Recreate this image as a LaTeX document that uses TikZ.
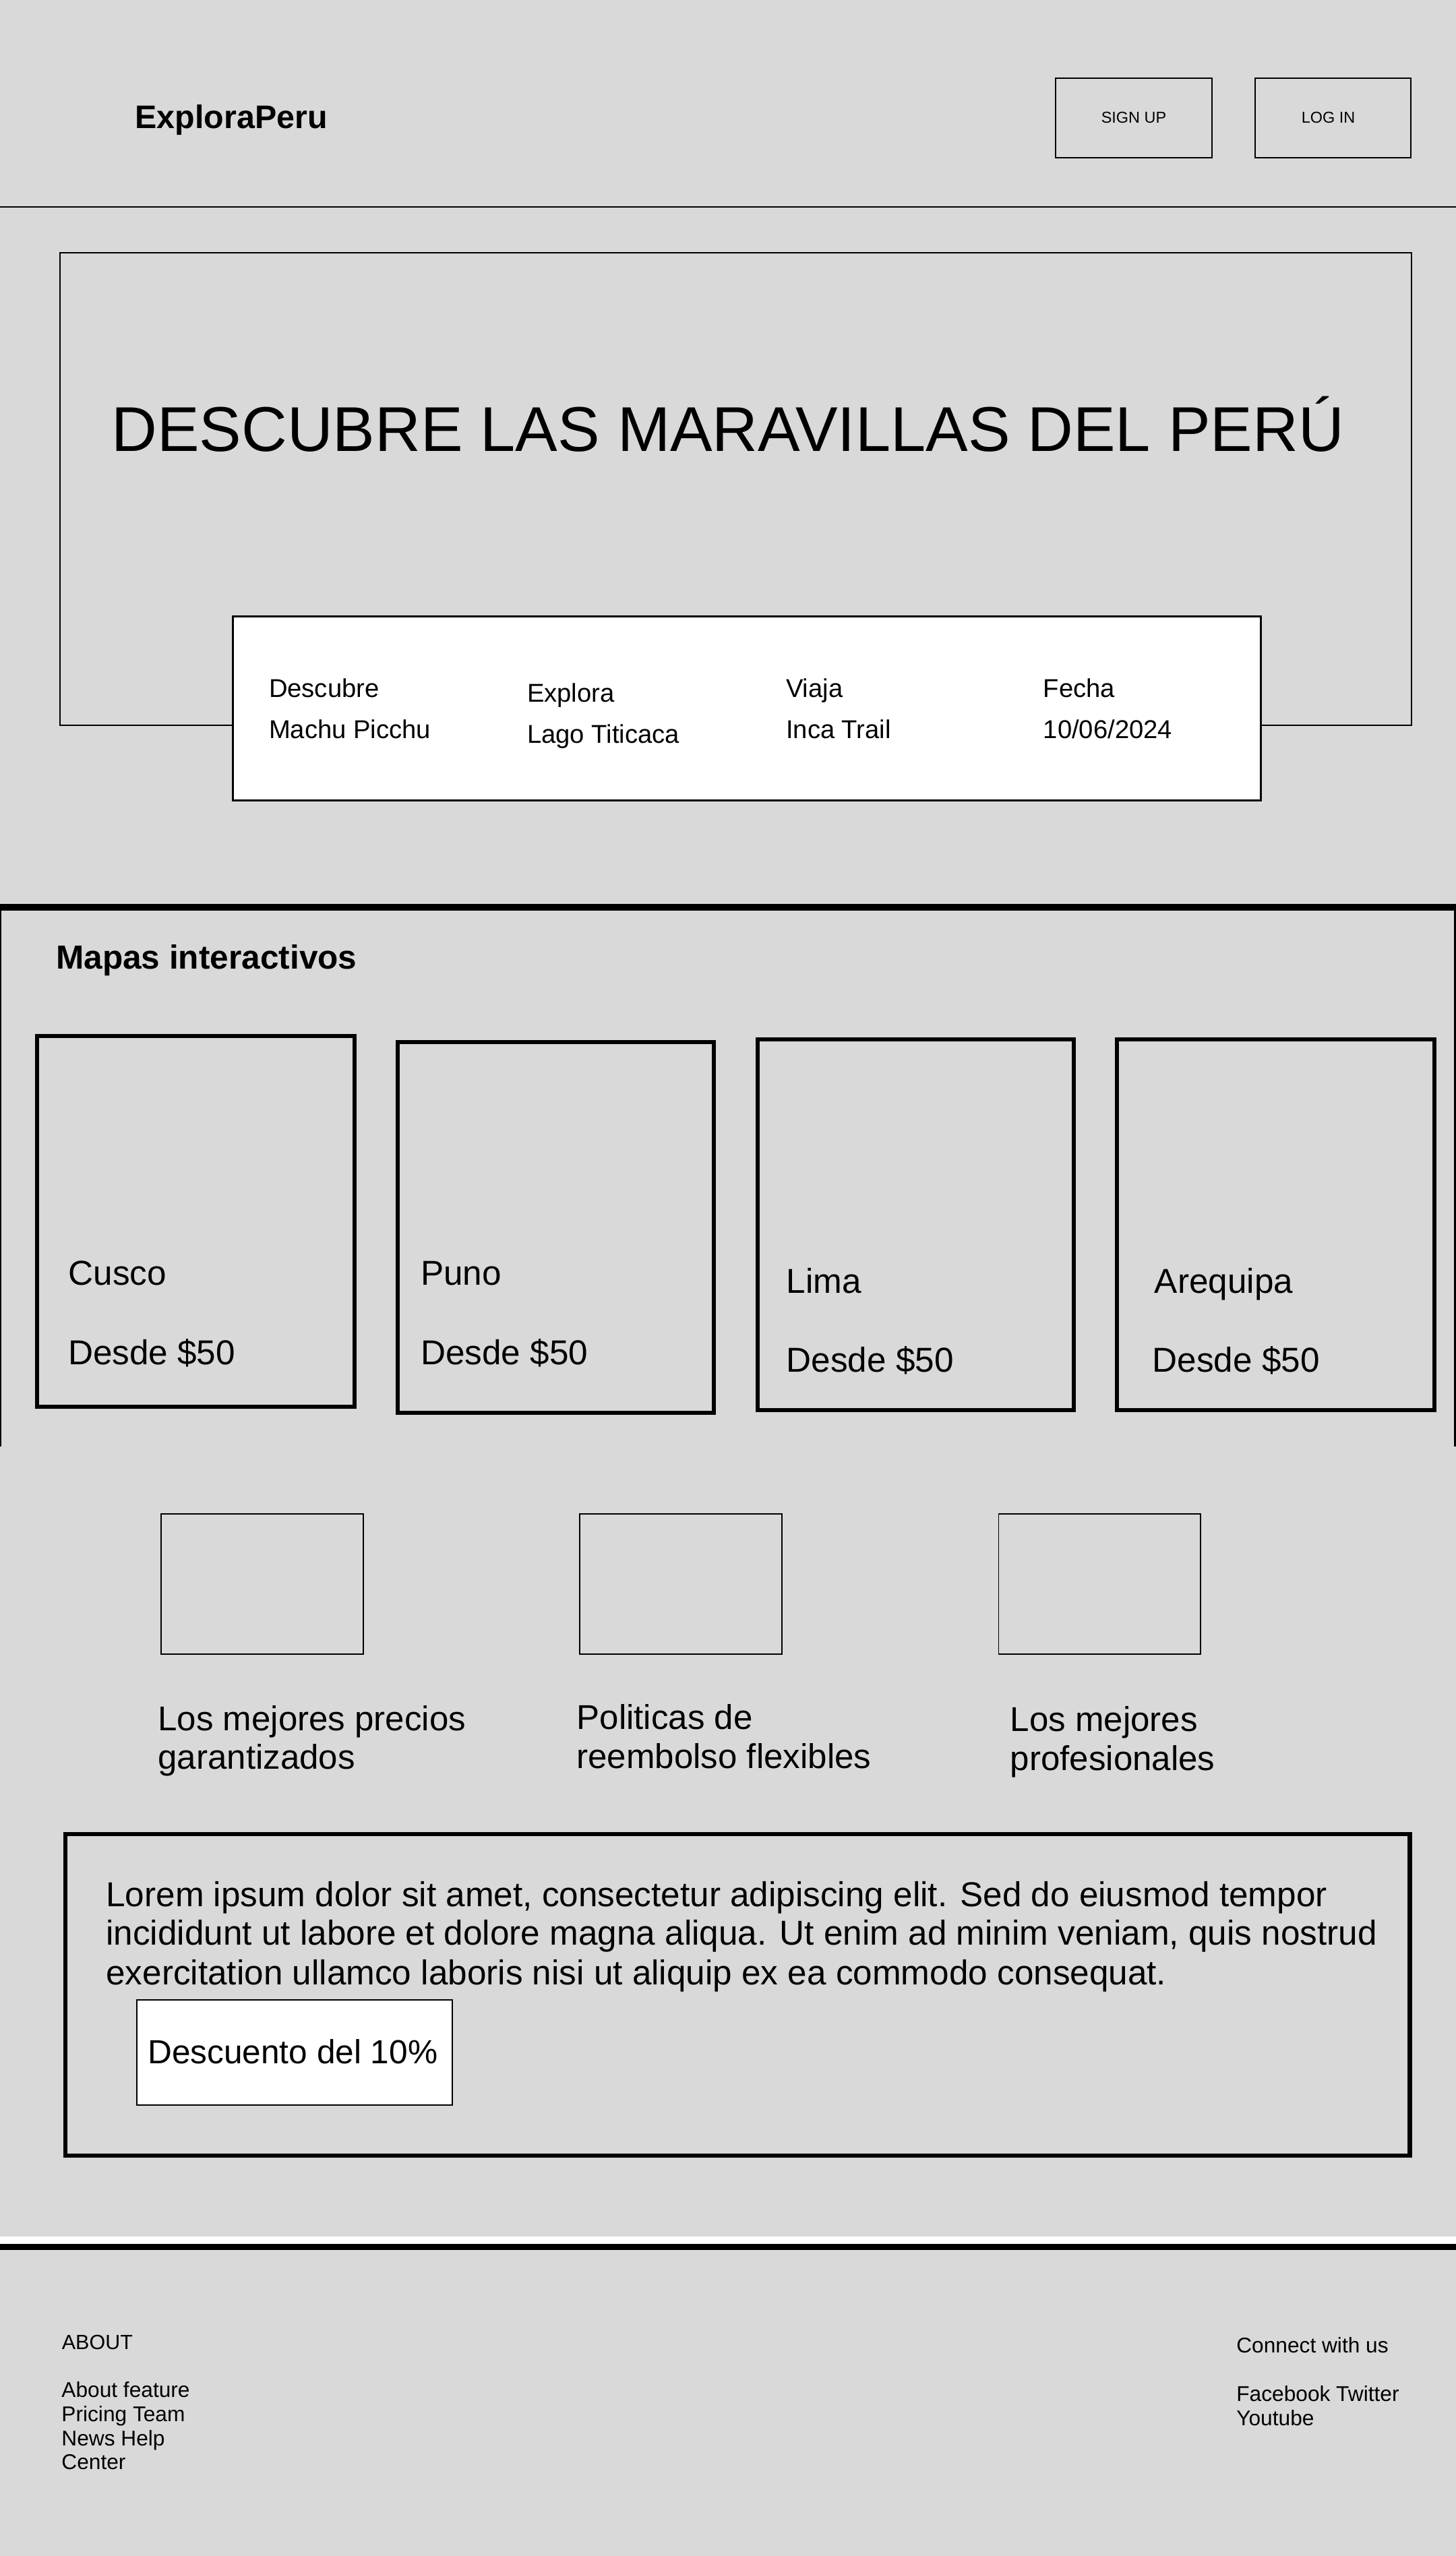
\documentclass[tikz,border=0pt]{standalone}
\usepackage{fontspec}
\setmainfont{Liberation Sans}
\definecolor{bg}{HTML}{D9D9D9}
\begin{document}
\begin{tikzpicture}[x=1pt,y=-1pt,
  txt/.style={inner sep=0pt,outer sep=0pt,anchor=base west,text=black},
  hdr/.style={txt,font=\bfseries\fontsize{20}{24}\selectfont},
  btntxt/.style={inner sep=0pt,anchor=center,font=\fontsize{9.7}{11}\selectfont},
  herotxt/.style={txt,font=\fontsize{38.8}{46}\selectfont},
  srch/.style={txt,font=\fontsize{15.8}{18}\selectfont},
  body/.style={txt,font=\fontsize{21.1}{24}\selectfont},
  cardtxt/.style={txt,font=\fontsize{21.2}{24}\selectfont},
  foot/.style={txt,font=\fontsize{13.1}{15}\selectfont},
  thinline/.style={draw=black,line width=0.8pt},
  cardline/.style={draw=black,line width=2.5pt},
  boldframe/.style={draw=black,line width=2.8pt}]
\useasboundingbox (0,0) rectangle (893.16,1568);
\fill[bg] (0,0) rectangle (893.16,1568);

% ---------- header ----------
\node[hdr] (logo) at (83,78.8) {ExploraPeru};
\draw[thinline] (0,127.1) -- (893.16,127.1);
\draw[thinline] (647.4,48) rectangle (743.6,96.6);
\node[btntxt] (signup) at (695.5,72.3) {SIGN UP};
\draw[thinline] (769.9,48) rectangle (865.6,96.6);
\node[btntxt] (login) at (814.8,72.3) {LOG IN};

% ---------- hero ----------
\draw[thinline] (36.8,155) rectangle (865.8,444.8);
\node[herotxt] (title) at (68.4,276.7) {DESCUBRE LAS MARAVILLAS DEL PERÚ};
\draw[fill=white,draw=black,line width=1.3pt] (143,378) rectangle (773.4,491.2);
\node[srch] (s1a) at (165,427.7) {Descubre};
\node[srch] (s1b) at (165,453) {Machu Picchu};
\node[srch] (s2a) at (323.4,430.8) {Explora};
\node[srch] (s2b) at (323.4,455.8) {Lago Titicaca};
\node[srch] (s3a) at (482.2,427.7) {Viaja};
\node[srch] (s3b) at (482.2,453) {Inca Trail};
\node[srch] (s4a) at (640,427.7) {Fecha};
\node[srch] (s4b) at (640,453) {10/06/2024};

% ---------- mapas ----------
\fill[black] (0,554.7) rectangle (893.16,558.5);
\draw[line width=1pt] (0.5,556) -- (0.5,887.4);
\draw[line width=1pt] (892.6,556) -- (892.6,887.4);
\node[txt,font=\bfseries\fontsize{20.5}{24}\selectfont] (mapas) at (34.4,594.4) {Mapas interactivos};

\draw[cardline] (22.85,635.45) rectangle (217.45,863.15);
\draw[cardline] (243.85,639.25) rectangle (437.75,866.75);
\draw[cardline] (464.85,637.65) rectangle (658.75,865.05);
\draw[cardline] (685.25,637.65) rectangle (879.75,865.05);

\node[cardtxt] (c1a) at (42,788.2) {Cusco};
\node[cardtxt] (c1b) at (41.8,837.1) {Desde \$50};
\node[cardtxt] (c2a) at (258.1,788.2) {Puno};
\node[cardtxt] (c2b) at (258.1,837.1) {Desde \$50};
\node[cardtxt] (c3a) at (482.5,793.2) {Lima};
\node[cardtxt] (c3b) at (482.4,841.8) {Desde \$50};
\node[cardtxt] (c4a) at (708.3,793.2) {Arequipa};
\node[cardtxt] (c4b) at (707,841.8) {Desde \$50};

% ---------- features ----------
\draw[thinline] (98.9,928.6) rectangle (222.8,1014.8);
\draw[thinline] (355.8,928.6) rectangle (479.7,1014.8);
\draw[thinline] (612.6,928.6) rectangle (736.6,1014.8);
\node[body] (f1a) at (97,1061.5) {Los mejores precios};
\node[body] (f1b) at (97,1085.4) {garantizados};
\node[body] (f2a) at (353.8,1060.8) {Politicas de};
\node[body] (f2b) at (353.8,1084.9) {reembolso flexibles};
\node[body] (f3a) at (619.8,1062.2) {Los mejores};
\node[body] (f3b) at (619.8,1086) {profesionales};

% ---------- lorem ----------
\draw[boldframe] (40.1,1125.1) rectangle (864.8,1322.4);
\node[cardtxt] (l1) at (65.1,1169.5) {Lorem ipsum dolor sit amet, consectetur adipiscing elit. Sed do eiusmod tempor};
\node[cardtxt] (l2) at (65.1,1193.3) {incididunt ut labore et dolore magna aliqua. Ut enim ad minim veniam, quis nostrud};
\node[cardtxt] (l3) at (65.1,1217.4) {exercitation ullamco laboris nisi ut aliquip ex ea commodo consequat.};
\draw[thinline,fill=white] (84.1,1227) rectangle (277.5,1291.2);
\node[txt,font=\fontsize{20.5}{24}\selectfont] (desc) at (90.7,1265.8) {Descuento del 10\%};

% ---------- footer ----------
\fill[white] (0,1372) rectangle (893.16,1376.4);
\fill[black] (0,1376.4) rectangle (893.16,1380.2);
\node[foot,font=\fontsize{12.6}{15}\selectfont] (about) at (38,1441.1) {ABOUT};
\node[foot] (ab1) at (37.8,1470.4) {About feature};
\node[foot] (ab2) at (37.8,1485.5) {Pricing Team};
\node[foot] (ab3) at (37.8,1500.5) {News Help};
\node[foot] (ab4) at (37.8,1515) {Center};
\node[foot] (conn) at (758.5,1443.3) {Connect with us};
\node[foot] (cn1) at (758.5,1472.9) {Facebook Twitter};
\node[foot] (cn2) at (758.5,1487.9) {Youtube};
\end{tikzpicture}
\end{document}
